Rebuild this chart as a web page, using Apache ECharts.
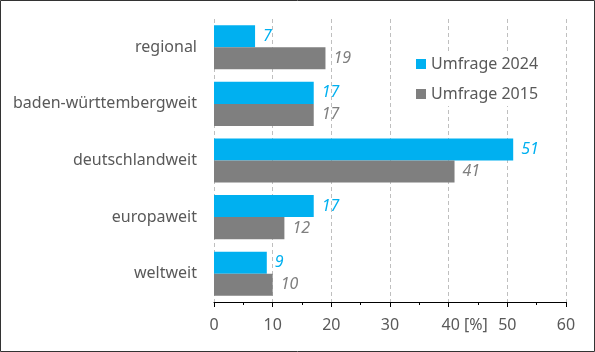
<!DOCTYPE html>
<html>
<head>
<meta charset="utf-8">
<script src="https://cdn.jsdelivr.net/npm/echarts@6/dist/echarts.min.js"></script>
<style>
  html, body { margin: 0; padding: 0; background: #fff; }
  #chart { width: 595px; height: 352px; }
</style>
</head>
<body>
<div id="chart"></div>
<script>
const categories = ['regional', 'baden-württembergweit', 'deutschlandweit', 'europaweit', 'weltweit'];
const survey2024 = [7, 17, 51, 17, 9];
const survey2015 = [19, 17, 41, 12, 10];
const seriesNames = ['Umfrage 2024', 'Umfrage 2015'];

const font = 'Noto Sans';
const textGrey = '#595959';

const chart = echarts.init(document.getElementById('chart'));

chart.setOption({
  backgroundColor: '#fff',
  animation: false,
  textStyle: { fontFamily: font },
  graphic: [{
    type: 'rect',
    shape: { x: 0.5, y: 0.5, width: 594, height: 351 },
    style: { fill: 'none', stroke: '#333', lineWidth: 1 },
    z: 100
  }],
  legend: {
    orient: 'vertical',
    left: 406,
    top: 52,
    itemWidth: 10,
    itemHeight: 10,
    itemGap: 14,
    padding: [4, 16, 4, 10],
    backgroundColor: '#fff',
    icon: 'rect',
    textStyle: { color: textGrey, fontSize: 16, fontFamily: font },
    data: seriesNames
  },
  grid: { left: 214, right: 29, top: 19, bottom: 50 },
  xAxis: {
    type: 'value',
    min: 0,
    max: 60,
    interval: 10,
    axisLine: { show: true, lineStyle: { color: '#000', width: 1 } },
    axisTick: { show: true, length: 5, lineStyle: { color: '#000' } },
    minorTick: { show: true, splitNumber: 2, length: 3, lineStyle: { color: '#000' } },
    splitLine: { show: true, lineStyle: { color: '#bfbfbf', type: [4, 3] } },
    axisLabel: {
      color: textGrey,
      fontSize: 16,
      margin: 15,
      formatter: v => v === 40 ? '{p|40 [%]}' : String(v),
      rich: { p: { fontSize: 16, color: textGrey, padding: [0, 0, 0, 32] } }
    }
  },
  yAxis: {
    type: 'category',
    inverse: true,
    data: categories,
    axisLine: { show: false },
    axisTick: { show: false },
    axisLabel: { color: textGrey, fontSize: 16, margin: 17 }
  },
  series: [
    {
      name: seriesNames[0],
      type: 'bar',
      data: survey2024,
      barGap: '0%',
      barCategoryGap: '22%',
      itemStyle: { color: '#00b0f0' },
      label: { show: true, position: 'right', distance: 8, color: '#00b0f0', fontSize: 16, fontStyle: 'italic' }
    },
    {
      name: seriesNames[1],
      type: 'bar',
      data: survey2015,
      itemStyle: { color: '#7f7f7f' },
      label: { show: true, position: 'right', distance: 8, color: '#7f7f7f', fontSize: 16, fontStyle: 'italic' }
    }
  ]
});
</script>
</body>
</html>
